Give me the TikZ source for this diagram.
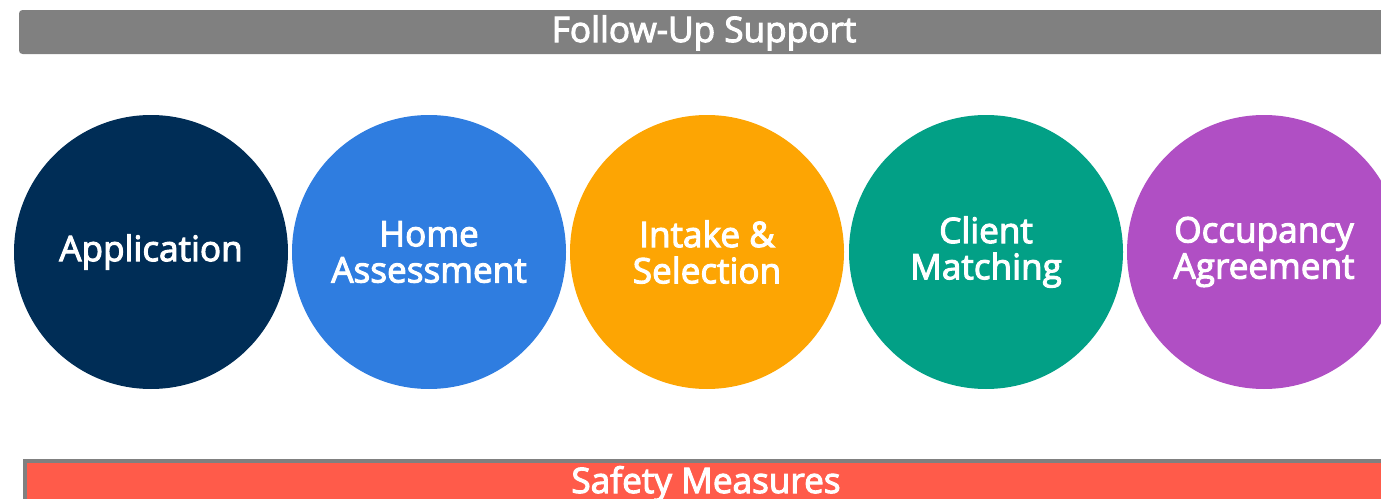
\documentclass[tikz,border=0pt]{standalone}
\usepackage{fontspec}
\setmainfont{Open Sans}
\definecolor{barGray}{HTML}{808080}
\definecolor{stageNavy}{HTML}{002D56}
\definecolor{stageBlue}{HTML}{2F7DE0}
\definecolor{stageOrange}{HTML}{FDA503}
\definecolor{stageTeal}{HTML}{02A086}
\definecolor{stagePurple}{HTML}{B04FC4}
\definecolor{safetyRed}{HTML}{FF5B4A}
\begin{document}
\begin{tikzpicture}[x=0.1mm, y=-0.1mm,
    stage/.style={circle, minimum size=2.74cm, inner sep=0pt, text=white, align=center,
        font=\fontsize{10}{10.3}\selectfont\addfontfeature{FakeBold=3}},
    bandtext/.style={anchor=base, text=white, inner sep=0pt,
        font=\fontsize{10}{12}\selectfont\addfontfeature{FakeBold=3}}]
        \useasboundingbox (0,0) rectangle (1381,499);
        \clip (0,0) rectangle (1381,499);

        \fill[barGray, rounded corners=1pt] (19,10) rectangle (1420,54);
        \node[bandtext] (follow) at (704,42) {Follow-Up Support};

        \node[stage, fill=stageNavy]   (application) at (151,252)  {Application};
        \node[stage, fill=stageBlue]   (home)        at (429,252)  {Home\\Assessment};
        \node[stage, fill=stageOrange] (intake)      at (707,252)  {Intake \&\\Selection};
        \node[stage, fill=stageTeal]   (matching)    at (986,252)  {Client\\Matching};
        \node[stage, fill=stagePurple] (occupancy)   at (1264,252) {Occupancy\\Agreement};

        \filldraw[fill=safetyRed, draw=barGray, line width=0.4mm] (25,461) rectangle (1420,540);
        \node[bandtext] (safety) at (706,493) {Safety Measures};
    \end{tikzpicture}
\end{document}
